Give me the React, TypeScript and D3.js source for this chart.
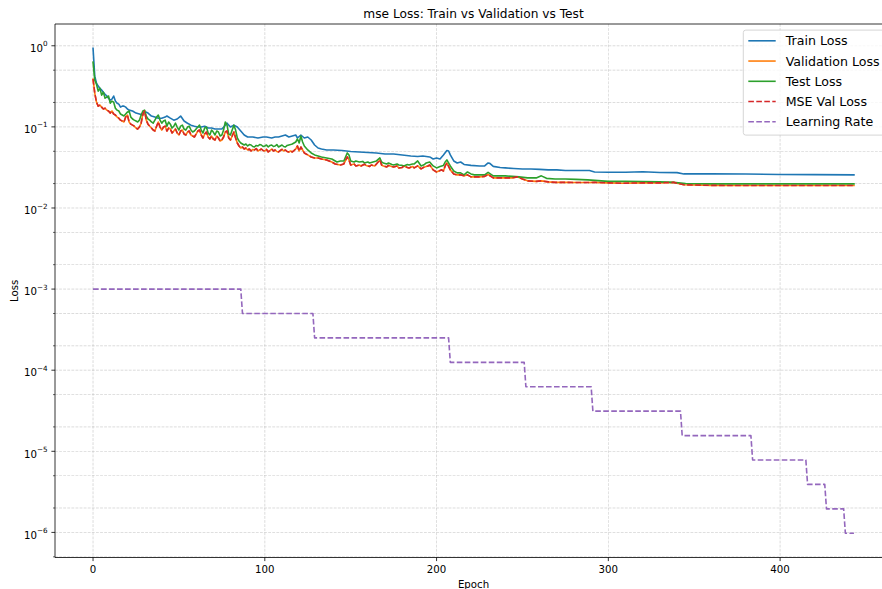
import React from "react";
import * as d3 from "d3";

// ---------- data ----------
const trainLoss: [number, number][] = [
  [0,0.932],[1,0.422],[2,0.346],[3,0.318],[4,0.300],[5,0.284],[6,0.268],[7,0.253],[8,0.240],[9,0.226],
  [10,0.214],[11,0.220],[12,0.240],[13,0.208],[14,0.196],[15,0.191],[16,0.175],[17,0.180],[18,0.180],[19,0.175],
  [20,0.166],[21,0.161],[23,0.157],[25,0.148],[27,0.144],[29,0.140],[30,0.148],[31,0.152],[32,0.148],[34,0.136],
  [36,0.132],[38,0.128],[40,0.128],[42,0.132],[43,0.136],[45,0.128],[47,0.121],[49,0.125],[51,0.136],[53,0.118],
  [55,0.111],[57,0.105],[59,0.102],[61,0.0995],[63,0.0995],[65,0.102],[67,0.0967],[69,0.0967],[71,0.094],[73,0.094],
  [75,0.094],[77,0.105],[78,0.111],[80,0.0995],[82,0.105],[84,0.0995],[86,0.0889],[88,0.0794],[90,0.075],[93,0.075],
  [96,0.0729],[99,0.075],[101,0.075],[104,0.0729],[106,0.075],[108,0.075],[110,0.0771],[112,0.0794],[114,0.075],[116,0.0771],
  [118,0.0794],[119,0.0729],[121,0.0794],[123,0.0729],[125,0.075],[127,0.0689],[129,0.0598],[131,0.0549],[133,0.0534],[136,0.0519],
  [140,0.0519],[145,0.0512],[150,0.0498],[155,0.0491],[160,0.0484],[165,0.0477],[170,0.0464],[175,0.0464],[180,0.0451],[185,0.0438],
  [189,0.0432],[192,0.0438],[196,0.0426],[198,0.0402],[200,0.0414],[202,0.0402],[204,0.0451],[206,0.0512],[207,0.0504],[208,0.0451],
  [210,0.038],[212,0.0359],[214,0.0369],[216,0.0344],[220,0.0335],[225,0.033],[228,0.033],[230,0.0359],[231,0.0355],[233,0.0326],
  [237,0.0316],[240,0.0312],[245,0.0307],[250,0.0303],[255,0.0303],[260,0.0299],[265,0.0295],[270,0.0295],[275,0.029],[280,0.029],
  [289,0.029],[292,0.0278],[300,0.0276],[310,0.0276],[320,0.028],[330,0.0274],[340,0.0273],[344,0.0263],[360,0.0263],[380,0.0262],
  [400,0.0259],[420,0.0258],[443,0.0256],
];

const valLoss: [number, number][] = [
  [0,0.387],[1,0.261],[2,0.202],[3,0.180],[4,0.186],[5,0.175],[6,0.166],[7,0.170],[8,0.161],[9,0.157],
  [10,0.148],[11,0.157],[12,0.144],[13,0.140],[14,0.132],[15,0.128],[16,0.121],[17,0.118],[18,0.115],[19,0.132],
  [20,0.140],[21,0.115],[22,0.108],[23,0.105],[24,0.102],[25,0.0967],[26,0.094],[27,0.0995],[28,0.111],[29,0.144],
  [30,0.157],[31,0.121],[32,0.108],[33,0.102],[34,0.0967],[35,0.0914],[36,0.0889],[37,0.102],[38,0.115],[39,0.0995],
  [40,0.0914],[41,0.0995],[42,0.102],[43,0.0889],[44,0.0967],[45,0.094],[46,0.084],[47,0.0889],[48,0.094],[49,0.084],
  [50,0.0794],[51,0.0889],[52,0.0914],[53,0.0816],[54,0.0794],[55,0.0864],[56,0.0889],[57,0.0794],[58,0.0771],[59,0.075],
  [60,0.0816],[61,0.0889],[62,0.0914],[63,0.0794],[64,0.0729],[65,0.0816],[66,0.0864],[67,0.075],[68,0.0709],[69,0.0771],
  [70,0.0709],[71,0.0689],[72,0.0771],[73,0.0729],[74,0.067],[75,0.0689],[76,0.075],[77,0.0864],[78,0.0889],[79,0.0729],
  [80,0.0689],[81,0.0771],[82,0.0864],[83,0.0729],[84,0.0633],[85,0.0581],[86,0.0549],[87,0.0565],[88,0.0534],[89,0.0549],
  [90,0.0519],[91,0.0534],[92,0.0504],[93,0.0527],[94,0.0519],[95,0.0541],[96,0.0504],[97,0.0519],[98,0.0534],[99,0.0511],
  [100,0.0504],[101,0.0527],[102,0.0491],[103,0.0511],[104,0.0534],[105,0.0504],[106,0.0519],[107,0.0497],[108,0.0491],[109,0.0511],
  [110,0.0527],[111,0.0504],[112,0.0519],[113,0.0497],[114,0.0491],[115,0.0504],[116,0.0491],[117,0.0511],[118,0.0534],[119,0.0581],
  [120,0.0504],[121,0.0565],[122,0.0519],[123,0.0477],[125,0.0451],[127,0.0426],[129,0.0414],[131,0.0414],[133,0.0402],[136,0.0391],
  [139,0.0369],[141,0.0349],[144,0.0339],[146,0.0349],[148,0.0426],[149,0.0391],[150,0.0339],[152,0.0349],[153,0.033],[155,0.0339],
  [156,0.033],[158,0.0346],[159,0.0335],[161,0.0325],[162,0.0339],[164,0.033],[165,0.0349],[167,0.0391],[168,0.0339],[169,0.033],
  [171,0.0321],[172,0.0335],[174,0.0325],[175,0.0321],[177,0.033],[178,0.0312],[180,0.0316],[181,0.033],[183,0.0316],[184,0.0312],
  [186,0.0325],[187,0.0312],[189,0.033],[191,0.0303],[193,0.0321],[195,0.033],[196,0.0339],[198,0.0295],[200,0.0278],[202,0.029],
  [203,0.0295],[204,0.0286],[205,0.033],[206,0.0359],[208,0.0295],[210,0.0263],[212,0.0256],[214,0.0256],[216,0.0249],[218,0.0256],
  [220,0.0242],[222,0.0242],[225,0.0242],[228,0.0245],[230,0.0259],[233,0.0235],[237,0.0235],[240,0.0235],[244,0.0235],[247,0.0242],
  [250,0.0228],[253,0.0216],[258,0.0213],[261,0.0216],[265,0.021],[269,0.0207],[275,0.0207],[281,0.0206],[288,0.0206],[292,0.0207],
  [300,0.0204],[308,0.0202],[320,0.0204],[330,0.0204],[338,0.0207],[344,0.0193],[360,0.019],[380,0.0189],[400,0.0189],[420,0.0189],
  [443,0.0189],
];

const testLoss: [number, number][] = [
  [0,0.627],[1,0.377],[2,0.336],[3,0.276],[4,0.300],[5,0.246],[6,0.268],[7,0.226],[8,0.233],[9,0.240],
  [10,0.196],[11,0.208],[12,0.202],[13,0.170],[14,0.161],[15,0.157],[16,0.144],[17,0.140],[18,0.136],[19,0.144],
  [20,0.152],[21,0.157],[22,0.132],[23,0.125],[24,0.121],[25,0.118],[26,0.115],[27,0.121],[28,0.140],[29,0.157],
  [30,0.161],[31,0.136],[32,0.125],[33,0.121],[34,0.115],[35,0.111],[36,0.121],[37,0.132],[38,0.140],[39,0.121],
  [40,0.111],[41,0.118],[42,0.121],[43,0.102],[44,0.115],[45,0.108],[46,0.0967],[47,0.102],[48,0.111],[49,0.0995],
  [50,0.0914],[51,0.102],[52,0.105],[53,0.094],[54,0.0914],[55,0.0995],[56,0.102],[57,0.0914],[58,0.0864],[59,0.0889],
  [60,0.094],[61,0.0995],[62,0.105],[63,0.0914],[64,0.084],[65,0.0967],[66,0.0995],[67,0.084],[68,0.0794],[69,0.0914],
  [70,0.0864],[71,0.0794],[72,0.0889],[73,0.0864],[74,0.0771],[75,0.0794],[76,0.0914],[77,0.115],[78,0.105],[79,0.0816],
  [80,0.0794],[81,0.0914],[82,0.105],[83,0.0914],[84,0.0729],[85,0.067],[86,0.0633],[87,0.0615],[88,0.0598],[89,0.0615],
  [90,0.0581],[91,0.0606],[92,0.0598],[93,0.0573],[94,0.0565],[95,0.059],[96,0.0581],[97,0.0606],[98,0.0598],[99,0.0573],
  [100,0.0581],[101,0.0598],[102,0.0565],[103,0.059],[104,0.0598],[105,0.0573],[106,0.0581],[107,0.0606],[108,0.0565],[109,0.0581],
  [110,0.0598],[111,0.0573],[112,0.0565],[113,0.059],[114,0.0598],[115,0.0606],[116,0.0615],[117,0.0633],[118,0.0651],[119,0.0709],
  [120,0.0633],[121,0.0771],[122,0.0651],[123,0.0581],[125,0.0519],[127,0.0477],[129,0.0451],[131,0.0438],[133,0.0426],[136,0.0414],
  [139,0.0402],[142,0.0369],[144,0.038],[146,0.038],[148,0.0477],[149,0.0451],[150,0.038],[152,0.0369],[153,0.038],[155,0.0369],
  [157,0.0375],[158,0.0359],[160,0.0369],[161,0.0359],[163,0.0369],[165,0.038],[167,0.0414],[168,0.0369],[169,0.0359],[171,0.0349],
  [172,0.0359],[174,0.0344],[175,0.0339],[177,0.0349],[178,0.0339],[180,0.0335],[181,0.033],[183,0.0344],[184,0.0339],[186,0.0349],
  [187,0.0349],[189,0.038],[191,0.033],[193,0.0344],[194,0.0359],[196,0.0369],[198,0.033],[200,0.0312],[202,0.0325],[203,0.033],
  [204,0.0335],[205,0.0369],[206,0.0391],[208,0.033],[210,0.0286],[212,0.0271],[214,0.0271],[216,0.0256],[218,0.0278],[220,0.0263],
  [222,0.0256],[225,0.0256],[228,0.0256],[230,0.0275],[233,0.0249],[237,0.0249],[240,0.0249],[244,0.0245],[248,0.0242],[253,0.0235],
  [258,0.0235],[261,0.0249],[264,0.0232],[269,0.0228],[275,0.0228],[281,0.0225],[288,0.0222],[292,0.0219],[300,0.0213],[310,0.0213],
  [320,0.0212],[330,0.021],[338,0.0207],[345,0.02],[360,0.0198],[380,0.0198],[400,0.0198],[420,0.0198],[443,0.0198],
];

// learning-rate schedule: epoch where each rate starts, and the rate
const lrStartEpochs = [0, 87, 129, 208, 252, 291, 343, 384, 416, 427, 438];
const lrRates = [1e-3, 5e-4, 2.5e-4, 1.25e-4, 6.25e-5, 3.125e-5, 1.5625e-5, 7.8125e-6, 3.90625e-6, 1.953125e-6, 9.765625e-7];
const lastEpoch = 443;

const xTickValues = [0, 100, 200, 300, 400];
const yMajorExponents = [0, -1, -2, -3, -4, -5, -6];
const yMinorSubs = [2, 5];

const legendLabels = ["Train Loss", "Validation Loss", "Test Loss", "MSE Val Loss", "Learning Rate"];

// ---------- build LR series from schedule ----------
const lrSeries: [number, number][] = d3.range(0, lastEpoch + 1).map((e) => {
  let idx = 0;
  for (let i = 0; i < lrStartEpochs.length; i++) if (lrStartEpochs[i] <= e) idx = i;
  return [e, lrRates[idx]];
});

const W = 882, H = 589;
const L = 55, R = 892, T = 24, B = 557.5;
const FONT = "DejaVu Sans, Verdana, sans-serif";

const C = {
  blue: "#1f77b4",
  orange: "#ff7f0e",
  green: "#2ca02c",
  red: "#d62728",
  purple: "#9467bd",
};

export default function App() {
  const all = [...trainLoss, ...valLoss, ...testLoss, ...lrSeries];
  const xExt = d3.extent(all, (d) => d[0]) as [number, number];
  const xPad = (xExt[1] - xExt[0]) * 0.05;
  const x = d3.scaleLinear().domain([xExt[0] - xPad, xExt[1] + xPad]).range([L, R]);

  const lExt = d3.extent(all, (d) => Math.log10(d[1])) as [number, number];
  const lPad = (lExt[1] - lExt[0]) * 0.05;
  const y = d3
    .scaleLog()
    .domain([Math.pow(10, lExt[0] - lPad), Math.pow(10, lExt[1] + lPad)])
    .range([B, T]);

  const line = d3
    .line<[number, number]>()
    .x((d) => x(d[0]))
    .y((d) => y(d[1]));

  const yDom = y.domain();
  const minorTicks: number[] = [];
  for (let k = -8; k <= 1; k++) {
    for (const s of yMinorSubs) {
      const v = s * Math.pow(10, k);
      if (v >= yDom[0] && v <= yDom[1]) minorTicks.push(v);
    }
  }
  const majorTicks = yMajorExponents.map((k) => Math.pow(10, k));

  const gridStyle = {
    stroke: "#b0b0b0",
    strokeWidth: 0.55,
    strokeDasharray: "2.8,1.3",
    opacity: 0.8,
  };

  const lw = 1.6;
  const dash = "5.6,2.4";

  const series = [
    { data: trainLoss, color: C.blue, dashed: false },
    { data: valLoss, color: C.orange, dashed: false },
    { data: testLoss, color: C.green, dashed: false },
    { data: valLoss, color: C.red, dashed: true },
    { data: lrSeries, color: C.purple, dashed: true },
  ];

  const legX = 743.3, legY = 30.1, legW = 886 - 743.3, legH = 105;
  const rowY0 = 40.8, rowStep = 20.25;

  return (
    <svg
      width={W}
      height={H}
      style={{ position: "absolute", left: 0, top: 0, display: "block", background: "#fff" }}
      fontFamily={FONT}
    >
      <defs>
        <clipPath id="plotclip">
          <rect x={L} y={T} width={R - L} height={B - T} />
        </clipPath>
      </defs>
      <rect x={0} y={0} width={W} height={H} fill="#fff" />

      {/* grid */}
      <g clipPath="url(#plotclip)">
        {xTickValues.map((t) => (
          <line key={"gx" + t} x1={x(t)} x2={x(t)} y1={T} y2={B} {...gridStyle} />
        ))}
        {majorTicks.map((t) => (
          <line key={"gy" + t} x1={L} x2={R} y1={y(t)} y2={y(t)} {...gridStyle} />
        ))}
        {minorTicks.map((t) => (
          <line key={"gm" + t} x1={L} x2={R} y1={y(t)} y2={y(t)} {...gridStyle} />
        ))}
      </g>

      {/* series */}
      <g clipPath="url(#plotclip)" fill="none" strokeLinejoin="round">
        {series.map((s, i) => (
          <path
            key={i}
            d={line(s.data) || ""}
            stroke={s.color}
            strokeWidth={lw}
            strokeDasharray={s.dashed ? dash : undefined}
            strokeLinecap={s.dashed ? "butt" : "square"}
          />
        ))}
      </g>

      {/* spines */}
      <g stroke="#000" strokeWidth={0.8}>
        <line x1={L} x2={L} y1={T} y2={B} />
        <line x1={L} x2={R} y1={B} y2={B} />
        <line x1={L} x2={R} y1={T} y2={T} />
        <line x1={R} x2={R} y1={T} y2={B} />
      </g>

      {/* x ticks */}
      <g>
        {xTickValues.map((t) => (
          <g key={"xt" + t}>
            <line x1={x(t)} x2={x(t)} y1={B} y2={B + 3.6} stroke="#000" strokeWidth={0.8} />
            <text x={x(t)} y={B + 15.2} fontSize={10.2} textAnchor="middle" fill="#000">
              {t}
            </text>
          </g>
        ))}
      </g>

      {/* y ticks */}
      <g>
        {majorTicks.map((t, i) => (
          <g key={"yt" + t}>
            <line x1={L - 3.6} x2={L} y1={y(t)} y2={y(t)} stroke="#000" strokeWidth={0.8} />
            <text x={L - 7.4} y={y(t) + 6.2} fontSize={10.2} textAnchor="end" fill="#000">
              10
              <tspan fontSize={7.2} dy={-5.6}>
                {yMajorExponents[i] === 0 ? "0" : "\u2212" + Math.abs(yMajorExponents[i])}
              </tspan>
            </text>
          </g>
        ))}
        {minorTicks.map((t) => (
          <line key={"ym" + t} x1={L - 2} x2={L} y1={y(t)} y2={y(t)} stroke="#000" strokeWidth={0.6} />
        ))}
      </g>

      {/* labels */}
      <text x={(L + R) / 2} y={18} fontSize={12.2} textAnchor="middle" fill="#000">
        mse Loss: Train vs Validation vs Test
      </text>
      <text x={(L + R) / 2} y={588} fontSize={10.2} textAnchor="middle" fill="#000">
        Epoch
      </text>
      <text
        transform={`translate(17.5,${(T + B) / 2}) rotate(-90)`}
        fontSize={10.2}
        textAnchor="middle"
        fill="#000"
      >
        Loss
      </text>

      {/* legend */}
      <g>
        <rect
          x={legX}
          y={legY}
          width={legW}
          height={legH}
          rx={2.5}
          fill="#fff"
          fillOpacity={0.8}
          stroke="#cccccc"
          strokeWidth={0.8}
        />
        {legendLabels.map((lab, i) => {
          const s = series[i];
          const ry = rowY0 + i * rowStep;
          return (
            <g key={lab}>
              <line
                x1={748.3}
                x2={775.7}
                y1={ry}
                y2={ry}
                stroke={s.color}
                strokeWidth={lw}
                strokeDasharray={s.dashed ? dash : undefined}
              />
              <text x={785.7} y={ry + 4.5} fontSize={12.6} fill="#000">
                {lab}
              </text>
            </g>
          );
        })}
      </g>
    </svg>
  );
}
